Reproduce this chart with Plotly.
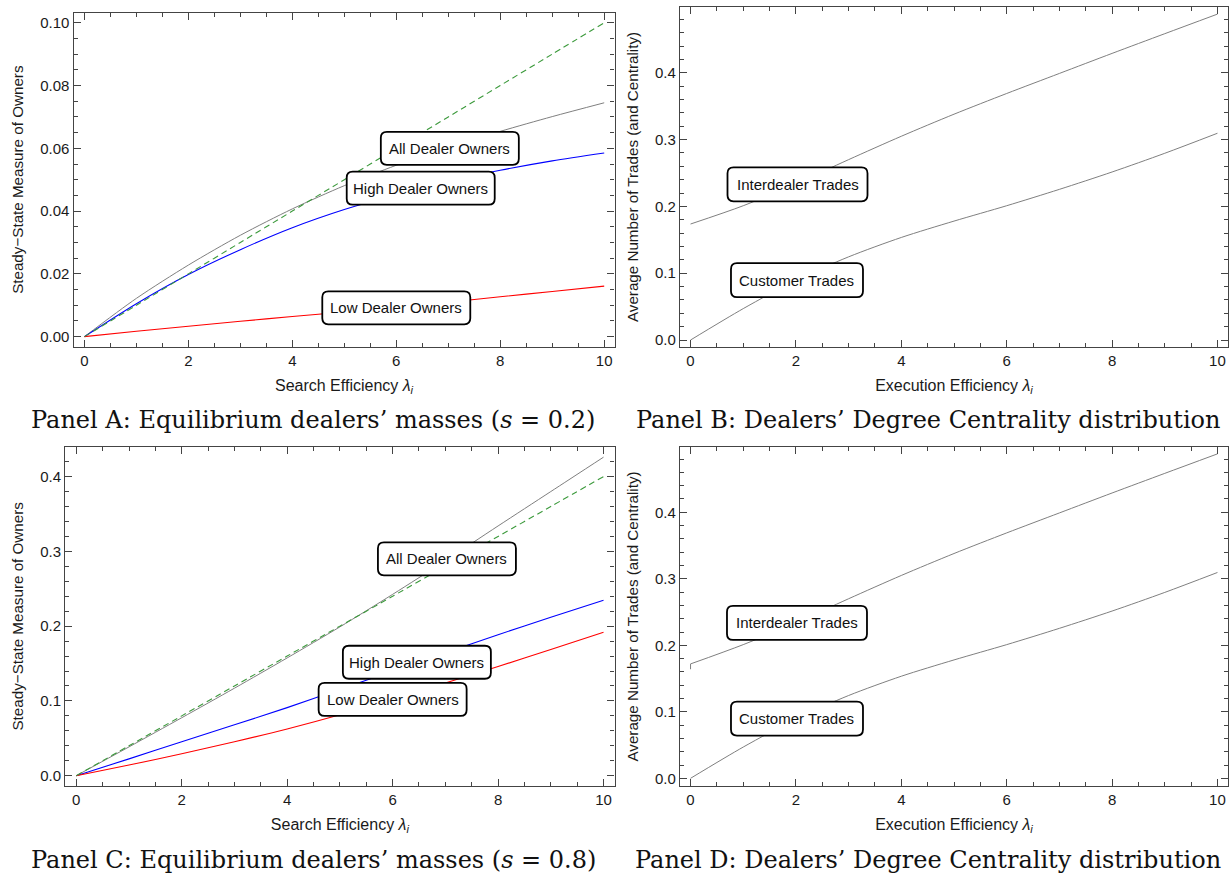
import plotly.graph_objects as go
from plotly.subplots import make_subplots

# ── data ───────────────────────────────────────────────────────────────────
lam = [0, 1, 2, 3, 4, 5, 6, 7, 8, 9, 10]

# Panel A (s = 0.2)
a_all  = [0, 0.0122, 0.0228, 0.0323, 0.0407, 0.0481, 0.0546, 0.0603, 0.0654, 0.0701, 0.0745]
a_high = [0, 0.0105, 0.0198, 0.0277, 0.0347, 0.0405, 0.0453, 0.0495, 0.0530, 0.0560, 0.0585]
a_low  = [0, 0.0017, 0.0033, 0.0049, 0.0064, 0.0079, 0.0094, 0.0110, 0.0127, 0.0144, 0.0161]
a_ref  = [0, 0.01, 0.02, 0.03, 0.04, 0.05, 0.06, 0.07, 0.08, 0.09, 0.10]

# Panel C (s = 0.8)
c_all  = [0, 0.0385, 0.0775, 0.1170, 0.1575, 0.1990, 0.2425, 0.2875, 0.3340, 0.3800, 0.4260]
c_high = [0, 0.0225, 0.0455, 0.0680, 0.0910, 0.1155, 0.1400, 0.1645, 0.1885, 0.2120, 0.2346]
c_low  = [0, 0.0142, 0.0293, 0.0454, 0.0625, 0.0815, 0.1025, 0.1240, 0.1460, 0.1688, 0.1917]
c_ref  = [0, 0.04, 0.08, 0.12, 0.16, 0.20, 0.24, 0.28, 0.32, 0.36, 0.40]

# Panels B / D (trades)
b_inter = [0.1736, 0.201, 0.234, 0.270, 0.305, 0.338, 0.369, 0.399, 0.429, 0.4585, 0.4878]
b_cust  = [0.0, 0.047, 0.0895, 0.1245, 0.1535, 0.178, 0.201, 0.2255, 0.2515, 0.2795, 0.3095]
d_inter = [0.172, 0.201, 0.234, 0.270, 0.305, 0.338, 0.369, 0.399, 0.429, 0.4585, 0.4878]
d_stub_x = [0, 0]
d_stub_y = [0.164, 0.172]
d_cust  = [0.0, 0.047, 0.0895, 0.1245, 0.1535, 0.178, 0.201, 0.2255, 0.2515, 0.2795, 0.3095]

# ── style ──────────────────────────────────────────────────────────────────
_FRAME = "#444444"
_GRAY  = "#7f7f7f"
_SANS  = "Liberation Sans, Arial, sans-serif"
_SERIF = "DejaVu Serif, serif"
W, H = 1229, 878

fig = make_subplots(rows=2, cols=2)

def _line(x, y, color, row, col, dash=None, width=1.1):
    fig.add_trace(go.Scatter(
        x=x, y=y, mode="lines",
        line=dict(color=color, width=width, dash=dash, shape="spline", smoothing=0.8),
        hoverinfo="skip", showlegend=False,
    ), row=row, col=col)

_line(lam, a_all,  _GRAY,     1, 1, width=1)
_line(lam, a_high, "#0000ff", 1, 1)
_line(lam, a_low,  "#ff0000", 1, 1)
_line(lam, a_ref,  "#3c9a3c", 1, 1, dash="6px,4px")

_line(lam, b_inter, _GRAY, 1, 2, width=1)
_line(lam, b_cust,  _GRAY, 1, 2, width=1)

_line(lam, c_all,  _GRAY,     2, 1, width=1)
_line(lam, c_high, "#0000ff", 2, 1)
_line(lam, c_low,  "#ff0000", 2, 1)
_line(lam, c_ref,  "#3c9a3c", 2, 1, dash="6px,4px")

_line(lam, d_inter, _GRAY, 2, 2, width=1)
_line(d_stub_x, d_stub_y, _GRAY, 2, 2, width=1)
_line(lam, d_cust,  _GRAY, 2, 2, width=1)

# ── axes: Mathematica-style frame, ticks inside on all sides ─────────────
def _px(x0, x1):
    return [x0 / W, x1 / W]

def _py(top, bottom):
    return [1 - bottom / H, 1 - top / H]

panels = {
    # (row, col): xdomain, ydomain, xrange, yrange, ydtick, yminor, yfmt, titles
    (1, 1): (_px(73.5, 614.6), _py(12.7, 346.7), [-0.21, 10.2], [-0.0032, 0.1032],
             0.02, 0.005, ".2f", "Search", "Steady\u2212State Measure of Owners"),
    (1, 2): (_px(680, 1228), _py(7.3, 346.7), [-0.2, 10.2], [-0.010, 0.498],
             0.1, 0.02, ".1f", "Execution", "Average Number of Trades (and Centrality)"),
    (2, 1): (_px(65.2, 614.6), _py(446.7, 786), [-0.21, 10.21], [-0.0138, 0.440],
             0.1, 0.02, ".1f", "Search", "Steady\u2212State Measure of Owners"),
    (2, 2): (_px(680, 1228), _py(447.3, 785.7), [-0.2, 10.2], [-0.0111, 0.4977],
             0.1, 0.02, ".1f", "Execution", "Average Number of Trades (and Centrality)"),
}

_common = dict(
    showline=True, mirror="allticks", linecolor=_FRAME, linewidth=1.3,
    ticks="inside", ticklen=7, tickwidth=1, tickcolor=_FRAME,
    showgrid=False, zeroline=False, automargin=False,
    tickfont=dict(family=_SANS, size=15, color="#1a1a1a"),
)

for (r, c), (xd, yd, xr, yr, ydt, ymin, yfmt, xword, ytitle) in panels.items():
    fig.update_xaxes(
        domain=xd, range=xr, dtick=2, tick0=0,
        minor=dict(ticks="inside", ticklen=4, dtick=0.5, tick0=0, tickcolor=_FRAME, showgrid=False),
        title=dict(text=f"{xword} Efficiency <i>\u03bb</i><sub><i>i</i></sub>",
                   font=dict(family=_SANS, size=16, color="#1a1a1a"), standoff=11),
        row=r, col=c, **_common,
    )
    fig.update_yaxes(
        domain=yd, range=yr, dtick=ydt, tick0=0, tickformat=yfmt,
        minor=dict(ticks="inside", ticklen=4, dtick=ymin, tick0=0, tickcolor=_FRAME, showgrid=False),
        title=dict(text=ytitle, font=dict(family=_SANS, size=15.2, color="#1a1a1a"), standoff=12),
        row=r, col=c, **_common,
    )

# ── callout labels (rounded boxes) ─────────────────────────────────────────
def _rounded(w, h, r=6):
    x0, x1, y0, y1 = -w / 2, w / 2, -h / 2, h / 2
    return (f"M {x0 + r},{y0} L {x1 - r},{y0} Q {x1},{y0} {x1},{y0 + r} "
            f"L {x1},{y1 - r} Q {x1},{y1} {x1 - r},{y1} L {x0 + r},{y1} "
            f"Q {x0},{y1} {x0},{y1 - r} L {x0},{y0 + r} Q {x0},{y0} {x0 + r},{y0} Z")

labels = [
    # text, xref, yref, x, y, box width, box height
    ("All Dealer Owners",  "x",  "y",  7.03, 0.0600, 138, 33),
    ("High Dealer Owners", "x",  "y",  6.47, 0.0473, 148, 33),
    ("Low Dealer Owners",  "x",  "y",  6.00, 0.0092, 148, 33),
    ("Interdealer Trades", "x2", "y2", 2.03, 0.2330, 140, 34),
    ("Customer Trades",    "x2", "y2", 2.02, 0.0896, 132, 34),
    ("All Dealer Owners",  "x3", "y3", 7.03, 0.2900, 138, 33),
    ("High Dealer Owners", "x3", "y3", 6.46, 0.1517, 148, 33),
    ("Low Dealer Owners",  "x3", "y3", 6.00, 0.1020, 148, 33),
    ("Interdealer Trades", "x4", "y4", 2.02, 0.2337, 140, 34),
    ("Customer Trades",    "x4", "y4", 2.02, 0.0899, 132, 34),
]

for text, xr_, yr_, x, y, bw, bh in labels:
    fig.add_shape(
        type="path", path=_rounded(bw, bh), xref=xr_, yref=yr_,
        xsizemode="pixel", ysizemode="pixel", xanchor=x, yanchor=y,
        fillcolor="white", line=dict(color="black", width=1.8), layer="above",
    )
    fig.add_annotation(
        x=x, y=y, xref=xr_, yref=yr_, text=text, showarrow=False,
        font=dict(family=_SANS, size=15, color="#111"),
        xanchor="center", yanchor="middle",
    )

# ── panel captions ────────────────────────────────────────────────────────
captions = [
    ("Panel A: Equilibrium dealers\u2019 masses (<i>s</i> = 0.2)", 313, 420),
    ("Panel B: Dealers\u2019 Degree Centrality distribution", 928, 420),
    ("Panel C: Equilibrium dealers\u2019 masses (<i>s</i> = 0.8)", 313, 860),
    ("Panel D: Dealers\u2019 Degree Centrality distribution", 928, 860),
]
for text, cx, cy in captions:
    fig.add_annotation(
        x=cx / W, y=1 - cy / H, xref="paper", yref="paper", text=text,
        showarrow=False, xanchor="center", yanchor="middle",
        font=dict(family=_SERIF, size=24, color="#111"),
    )

fig.update_layout(
    width=W, height=H, margin=dict(l=0, r=0, t=0, b=0),
    paper_bgcolor="white", plot_bgcolor="white", showlegend=False,
    template="none",
)

# figure fills the window exactly: drop the page margin and scrollbars
fig.write_html(
    "out.html",
    config={"displayModeBar": False},
    post_script="document.body.style.margin='0';document.body.style.overflow='hidden';",
)
